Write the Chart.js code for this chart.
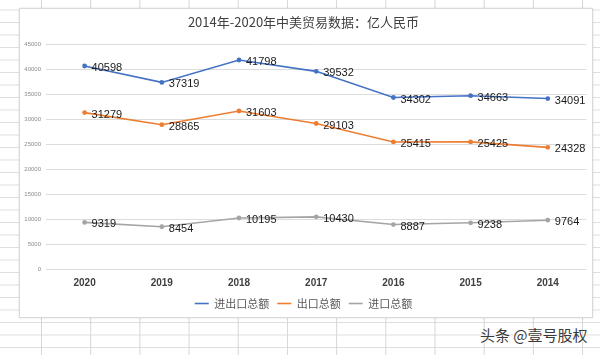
<!DOCTYPE html>
<html>
<head>
<meta charset="utf-8">
<script src="https://cdn.jsdelivr.net/npm/chart.js@4/dist/chart.umd.min.js"></script>
<style>
  html, body { margin: 0; padding: 0; }
  body {
    width: 600px; height: 355px; overflow: hidden; position: relative;
    background-color: #ffffff;
    background-image:
      linear-gradient(to right, #d6d6d6 1px, transparent 1px),
      linear-gradient(to bottom, #dedede 1px, transparent 1px);
    background-size: 49.2px 100%, 100% 12.5px;
    background-position: 41px 0, 0 322px;
    font-family: "Noto Sans CJK SC", "Liberation Sans", sans-serif;
  }
  #box {
    position: absolute; left: 19px; top: 8px; width: 574px; height: 310px;
    box-sizing: border-box; background: #fff; border: 1px solid #d9d9d9;
    box-shadow: 0 0 2px rgba(0,0,0,0.12);
  }
  #wrap { position: absolute; left: 20px; top: 9px; width: 572px; height: 310px; }
  #mark {
    position: absolute; left: 480px; top: 324px; font-size: 15px; color: #3a3a3a;
    text-shadow: 0 0 2px #fff; white-space: nowrap;
    font-family: "Noto Sans CJK SC", sans-serif;
  }
</style>
</head>
<body>
<div id="box"></div>
<div id="wrap"><canvas id="c" width="572" height="310"></canvas></div>
<div id="mark">头条 @壹号股权</div>
<script>
const years = ["2020", "2019", "2018", "2017", "2016", "2015", "2014"];
const totalTrade = [40598, 37319, 41798, 39532, 34302, 34663, 34091];
const exportsUS = [31279, 28865, 31603, 29103, 25415, 25425, 24328];
const importsUS = [9319, 8454, 10195, 10430, 8887, 9238, 9764];
const seriesNames = ["进出口总额", "出口总额", "进口总额"];
const titleText = "2014年-2020年中美贸易数据：亿人民币";

const valueLabels = {
  id: "valueLabels",
  afterDatasetsDraw(chart) {
    const ctx = chart.ctx;
    ctx.save();
    ctx.font = '11px "Liberation Sans", Arial, sans-serif';
    ctx.fillStyle = "#1a1a1a";
    ctx.textAlign = "left";
    ctx.textBaseline = "middle";
    chart.data.datasets.forEach((ds, i) => {
      const meta = chart.getDatasetMeta(i);
      meta.data.forEach((pt, j) => {
        ctx.fillText(String(ds.data[j]), pt.x + 7, pt.y + 2);
      });
    });
    ctx.restore();
  }
};

const colors = ["#4472C4", "#ED7D31", "#A5A5A5"];
const seriesData = [totalTrade, exportsUS, importsUS];

new Chart(document.getElementById("c"), {
  type: "line",
  data: {
    labels: years,
    datasets: seriesData.map((d, i) => ({
      label: seriesNames[i],
      data: d,
      borderColor: colors[i],
      backgroundColor: colors[i],
      borderWidth: 1.6,
      pointRadius: 1.6,
      pointBackgroundColor: colors[i],
      pointBorderColor: colors[i],
      tension: 0,
      fill: false
    }))
  },
  options: {
    responsive: false,
    animation: false,
    devicePixelRatio: 1,
    layout: { padding: { left: 0, right: 5, top: 0, bottom: 0 } },
    plugins: {
      title: {
        display: true,
        text: titleText,
        color: "#404040",
        font: { size: 13, family: '"Noto Sans CJK SC", sans-serif', weight: "normal", lineHeight: 1.2 },
        padding: { top: 5, bottom: 14.4 }
      },
      legend: {
        position: "bottom",
        labels: {
          usePointStyle: true,
          pointStyle: "line",
          pointStyleWidth: 14,
          padding: 8,
          color: "#595959",
          font: { size: 11, family: '"Noto Sans CJK SC", sans-serif' }
        }
      },
      tooltip: { enabled: false }
    },
    scales: {
      x: {
        offset: true,
        grid: { display: false, drawTicks: false },
        border: { display: false },
        ticks: {
          padding: 8,
          color: "#404040",
          font: { size: 10, weight: "bold", family: '"Liberation Sans", Arial, sans-serif' },
          maxRotation: 0
        },
        afterFit(scale) { scale.height = 21; }
      },
      y: {
        min: 0,
        max: 45000,
        ticks: {
          stepSize: 5000,
          padding: 5,
          color: "#8c8c8c",
          font: { size: 6, family: '"Liberation Sans", Arial, sans-serif' },
          callback: (v) => String(v)
        },
        grid: { color: "#dcdcdc", lineWidth: 1, drawTicks: false },
        border: { display: false },
        afterFit(scale) { scale.width = 26; }
      }
    }
  },
  plugins: [valueLabels]
});
</script>
</body>
</html>
